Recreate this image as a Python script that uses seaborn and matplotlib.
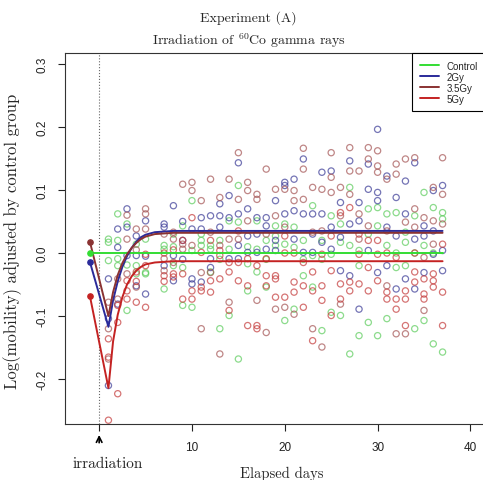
import matplotlib
matplotlib.use("Agg")
import matplotlib.pyplot as plt
import numpy as np
import pandas as pd
import seaborn as sns
from matplotlib.lines import Line2D

# ── data ──────────────────────────────────────────────────────
days = [1, 2, 3, 4, 5] + list(range(7, 38))

control_vals = [
    [0.022, 0.017, -0.012], [0.062, 0.020, -0.009, -0.020], [0.046, -0.019, -0.091],
    [0.014, -0.020, -0.033], [0.022, -0.031, -0.033], [0.012, 0.006, -0.057],
    [0.030, 0.010, -0.020], [0.043, -0.023, -0.083], [0.083, 0.004, -0.086],
    [0.030, 0.020, 0.012], [0.012, 0.006, -0.030], [0.020, -0.010, -0.120],
    [0.051, 0.006, -0.099], [0.107, 0.049, -0.168], [0.010, -0.017, -0.060],
    [0.051, 0.006, -0.030], [0.020, -0.010, -0.054], [0.043, 0.027, 0.012],
    [0.046, 0.014, -0.107], [0.041, 0.009, -0.089], [0.020, -0.010, -0.036],
    [0.075, -0.004, -0.054], [0.020, -0.010, -0.123], [0.059, -0.002, -0.094],
    [0.046, 0.017, -0.099], [0.104, 0.012, -0.160], [0.004, -0.020, -0.131],
    [0.070, 0.030, -0.110], [0.072, 0.043, -0.131], [0.062, 0.012, -0.104],
    [0.064, 0.000, -0.023], [0.033, 0.017, -0.020], [0.059, 0.000, -0.120],
    [0.096, 0.012, -0.107], [0.072, 0.000, -0.144], [0.064, 0.054, -0.157],
]
gy2_vals = [
    [-0.041, -0.104, -0.210], [0.038, 0.009, -0.081], [0.070, 0.041, -0.004],
    [0.027, -0.004, -0.052], [0.051, -0.005, -0.065], [0.046, 0.041, -0.020],
    [0.075, -0.004, -0.044], [0.050, 0.020, -0.010], [0.038, -0.041, -0.049],
    [0.056, 0.038, -0.046], [0.059, -0.009, -0.023], [0.078, 0.059, 0.041],
    [0.091, 0.056, -0.009], [0.143, 0.062, 0.012, -0.009], [0.070, 0.027, 0.001],
    [0.056, 0.030, 0.001], [0.056, 0.043, 0.006], [0.083, 0.020, 0.004],
    [0.112, 0.107, 0.062], [0.117, 0.067, 0.022], [0.149, 0.062, 0.001],
    [0.062, 0.030, 0.001], [0.128, 0.062, 0.017], [0.130, 0.041, 0.006],
    [0.080, 0.025, -0.028], [0.146, 0.046, -0.036], [0.080, 0.051, -0.089],
    [0.141, 0.101, 0.004], [0.196, 0.096, 0.083, -0.031], [0.122, 0.041, -0.020],
    [0.088, 0.027, -0.057], [0.114, 0.062, -0.041], [0.143, 0.022, -0.057],
    [0.043, 0.027, -0.031], [0.099, 0.035, -0.002], [0.107, 0.004, -0.028],
]
gy35_vals = [
    [-0.078, -0.120, -0.168], [-0.041, -0.073], [0.060, 0.022, -0.033],
    [0.038, 0.005, -0.054], [0.070, 0.062, 0.038], [0.030, -0.009, -0.028],
    [0.033, 0.022, -0.015], [0.109, 0.014, 0.006], [0.112, 0.099, 0.012],
    [0.083, -0.031, -0.120], [0.117, 0.033, -0.031], [0.088, 0.012, -0.160],
    [0.117, 0.022, -0.078], [0.159, 0.085, 0.022], [0.112, 0.099, 0.051],
    [0.093, 0.085, -0.075], [0.133, 0.030, -0.126], [0.101, 0.059, -0.089],
    [0.101, 0.041, -0.086], [0.099, 0.083, -0.097], [0.166, 0.133, 0.085],
    [0.104, 0.033, -0.120], [0.101, 0.035, -0.149], [0.159, 0.120, 0.096],
    [0.104, 0.059, -0.081], [0.167, 0.130, 0.093], [0.130, 0.062, 0.022],
    [0.167, 0.149, 0.043], [0.162, 0.138, 0.128], [0.117, 0.035, -0.052],
    [0.141, 0.125, -0.128], [0.149, 0.049, -0.128], [0.151, 0.070, 0.041],
    [0.056, -0.007, -0.091], [0.104, 0.051, 0.014], [0.151, 0.093, 0.046],
]
gy5_vals = [
    [-0.136, -0.165, -0.265], [-0.083, -0.110, -0.223], [-0.044, -0.060, -0.073],
    [-0.030, -0.045, -0.078], [-0.002, -0.020, -0.086], [0.000, -0.036, -0.045],
    [0.005, -0.033, -0.038], [0.020, -0.033, -0.073], [0.056, -0.060, -0.073],
    [0.001, -0.054, -0.060], [0.020, -0.044, -0.062], [0.004, -0.004, -0.041],
    [-0.015, -0.030, -0.091], [0.035, -0.015, -0.044], [-0.009, -0.052, -0.115],
    [-0.020, -0.115, -0.120], [-0.009, -0.036, -0.052], [-0.036, -0.041, -0.070],
    [0.027, 0.000, -0.070], [0.000, -0.046, -0.062], [-0.015, -0.052, -0.086],
    [-0.030, -0.060, -0.139], [-0.002, -0.052, -0.075], [0.027, -0.028, -0.099],
    [0.064, -0.049, -0.073], [0.072, -0.046, -0.060], [0.030, -0.002, -0.049],
    [0.020, -0.023, -0.060], [0.020, -0.002, -0.044], [0.000, -0.062, -0.073],
    [-0.007, -0.073, -0.089], [-0.060, -0.073, -0.115], [0.000, -0.030, -0.046],
    [-0.041, -0.065, -0.073], [-0.033, -0.044, -0.054], [0.014, -0.062, -0.115],
]

# fitted curves
fit_days = [-1, 1, 1.5, 2, 2.5, 3, 3.5, 4, 4.5, 5, 6, 7, 8, 37]
control_fit = [0, 0, 0, 0, 0, 0, 0, 0, 0, 0, 0, 0, 0, 0]
gy2_fit = [-0.014, -0.117, -0.075, -0.045, -0.022, -0.005, 0.008, 0.018, 0.025, 0.029, 0.033, 0.034, 0.035, 0.035]
gy35_fit = [0.018, -0.100, -0.062, -0.035, -0.016, -0.002, 0.008, 0.016, 0.022, 0.026, 0.030, 0.031, 0.032, 0.032]
gy5_fit = [-0.068, -0.214, -0.140, -0.098, -0.070, -0.050, -0.037, -0.028, -0.022, -0.018, -0.015, -0.014, -0.013, -0.013]

groups = ["Control", "2Gy", "3.5Gy", "5Gy"]
line_colors = ["#33dd33", "#2a2a9a", "#8a3232", "#c42222"]
point_colors = ["#5ccc5c", "#3a3a96", "#a45454", "#c43a3a"]

# ── build long tables ─────────────────────────────────────────
rows = []
for g, vals in zip(groups, [control_vals, gy2_vals, gy35_vals, gy5_vals]):
    for d, vs in zip(days, vals):
        for v in vs:
            rows.append((g, d, v))
pts = pd.DataFrame(rows, columns=["group", "day", "value"])

fits = pd.concat([
    pd.DataFrame({"group": g, "day": fit_days, "value": f})
    for g, f in zip(groups, [control_fit, gy2_fit, gy35_fit, gy5_fit])
])

# ── plot ──────────────────────────────────────────────────────
sns.set_style("ticks")
plt.rcParams["mathtext.fontset"] = "cm"
plt.rcParams["font.family"] = ["Liberation Sans", "DejaVu Sans"]
serif = "cmr10"

fig = plt.figure(figsize=(4.83, 4.81), dpi=100)
ax = fig.add_axes([65 / 483, 56 / 481, 421 / 483, 371 / 481])

ax.axvline(0, color="#666666", linestyle=":", linewidth=0.8, zorder=1)

for g, pc in zip(groups, point_colors):
    sub = pts[pts["group"] == g]
    sns.scatterplot(data=sub, x="day", y="value", ax=ax, color=pc,
                    facecolor="none", edgecolor=pc, s=20, linewidth=0.9,
                    alpha=0.7, zorder=2)

for g, lc in zip(groups, line_colors):
    sub = fits[fits["group"] == g]
    sns.lineplot(data=sub, x="day", y="value", ax=ax, color=lc,
                 linewidth=1.4, sort=False, estimator=None, zorder=3)
    ax.plot(sub["day"].iloc[0], sub["value"].iloc[0], "o", color=lc,
            markersize=3.8, zorder=4)

ax.set_xlim(-3.68, 41.68)
ax.set_ylim(-0.271, 0.317)
ax.set_xticks([0, 10, 20, 30, 40])
ax.set_xticklabels(["", "10", "20", "30", "40"])
ax.set_yticks([-0.2, -0.1, 0.0, 0.1, 0.2, 0.3])
ax.set_yticklabels(["-0.2", "-0.1", "0.0", "0.1", "0.2", "0.3"], rotation=90, va="center")
ax.tick_params(length=5, width=0.8, labelsize=8.5, colors="#222222", pad=7)
for sp in ax.spines.values():
    sp.set_visible(True)
    sp.set_linewidth(0.8)
    sp.set_color("#333333")
ax.set_xlabel("")
ax.set_ylabel("")

# irradiation arrow
ax.annotate("", xy=(0, -0.022), xytext=(0, -0.058),
            xycoords=ax.get_xaxis_transform(), textcoords=ax.get_xaxis_transform(),
            arrowprops=dict(arrowstyle="->", color="black", lw=1.2),
            annotation_clip=False)
ax.text(0.9, -0.105, "irradiation", transform=ax.get_xaxis_transform(),
        ha="center", va="center", fontsize=11, family=serif)

# titles and axis labels
fig.text(248 / 483, 1 - 18 / 481, "Experiment (A)", ha="center", va="center",
         fontsize=10, family=serif)
fig.text(249 / 483, 1 - 41 / 481, r"Irradiation of $^{60}$Co gamma rays",
         ha="center", va="center", fontsize=10, family=serif)
fig.text(282 / 483, 1 - 474 / 481, "Elapsed days", ha="center", va="center",
         fontsize=10.5, family=serif)
fig.text(13 / 483, 1 - 241 / 481, "Log(mobility) adjusted by control group",
         ha="center", va="center", rotation=90, fontsize=12, family=serif)

handles = [Line2D([0], [0], color=c, lw=1.4) for c in line_colors]
leg = ax.legend(handles, groups, loc="upper right", borderaxespad=0,
                fancybox=False, fontsize=7, handlelength=2.0,
                borderpad=0.8, labelspacing=0.1, framealpha=1)
leg.get_frame().set_edgecolor("black")
leg.get_frame().set_linewidth(0.8)

fig.savefig("out.png", dpi=100)
